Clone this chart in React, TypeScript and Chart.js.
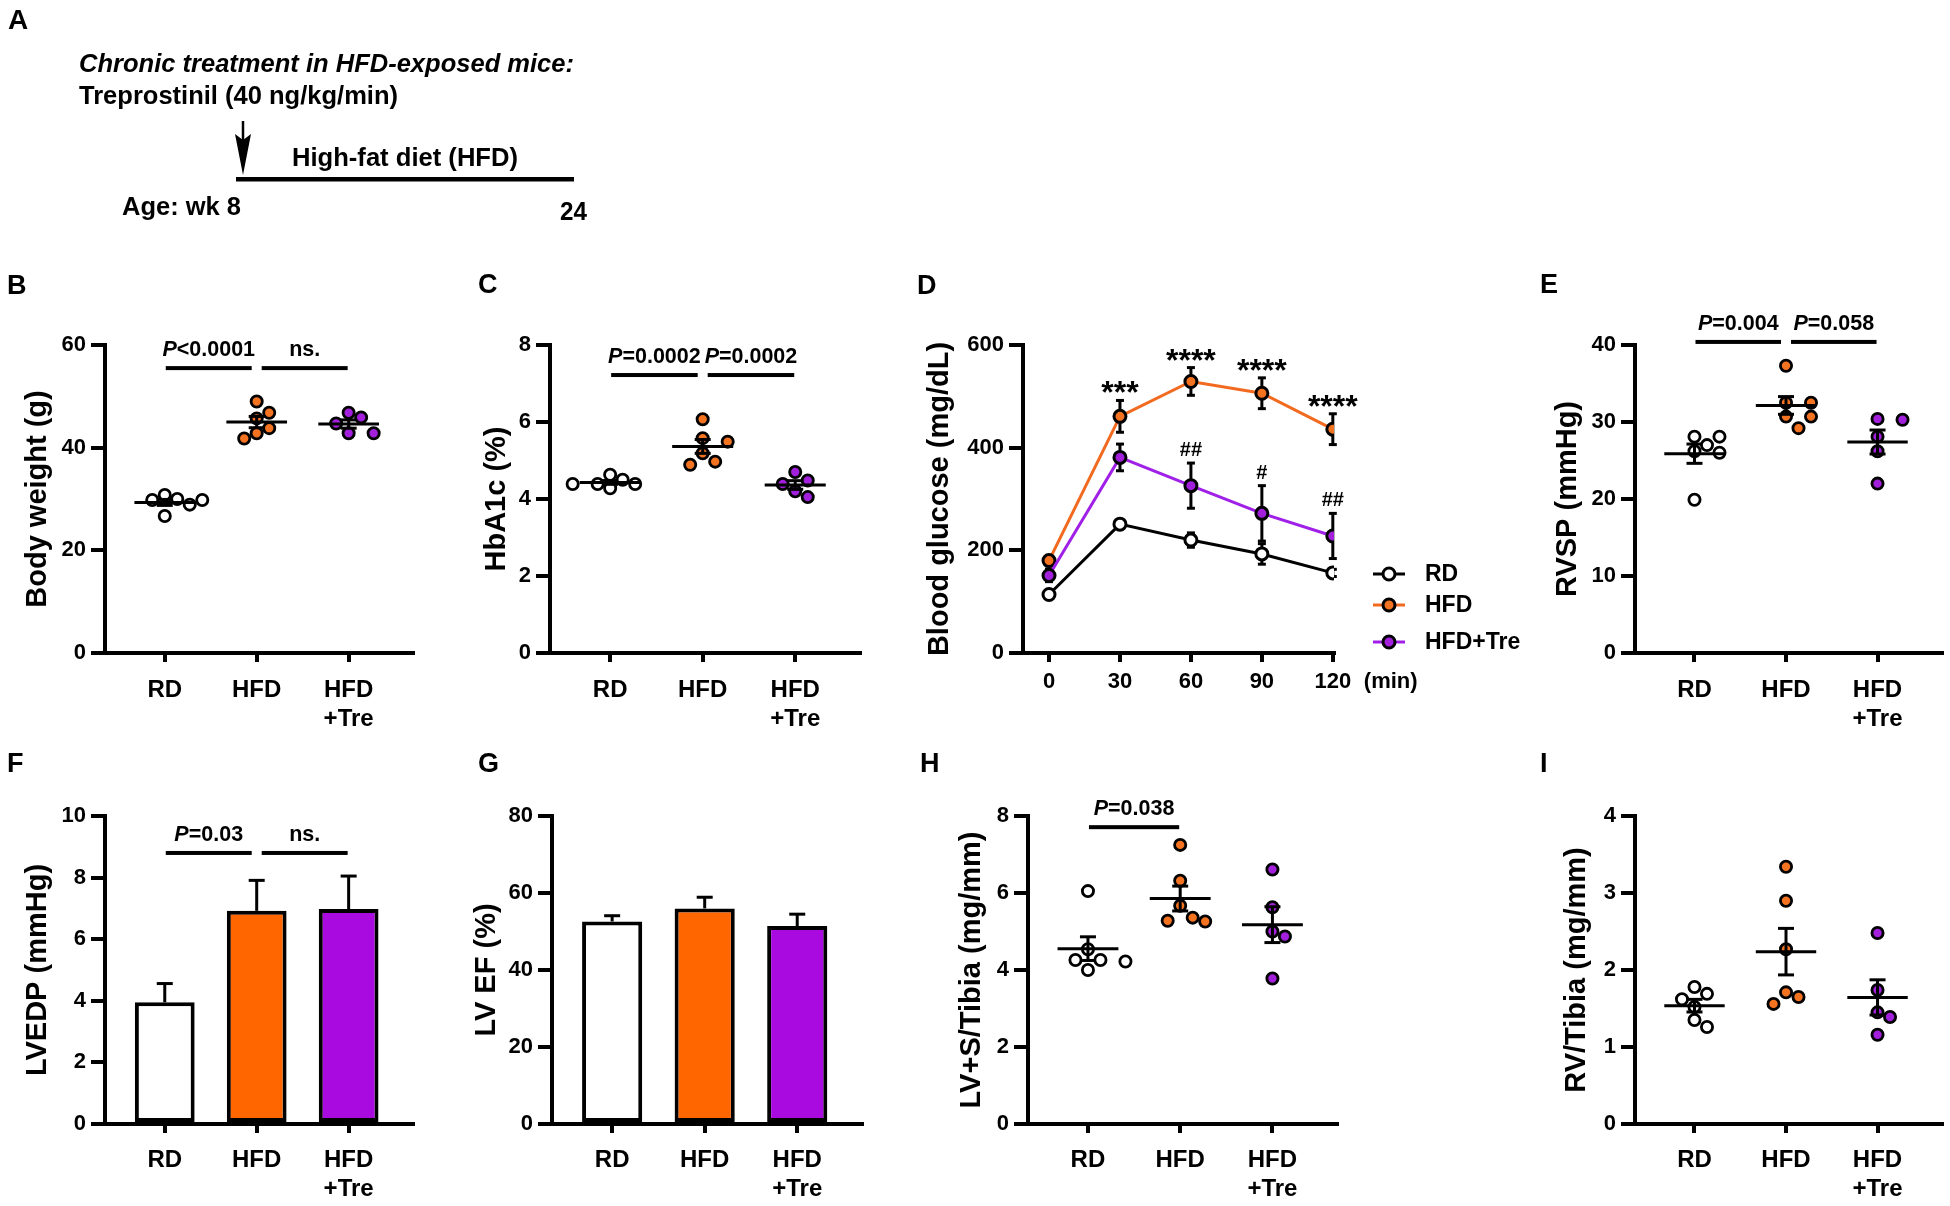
import React, { useEffect, useRef } from 'react';
import { Chart, registerables } from 'chart.js';

Chart.register(...registerables);

const FONT = '"Liberation Sans", Arial, Helvetica, sans-serif';

// ---------------- data ----------------
const groupNames = ['RD', 'HFD', 'HFD+Tre'];
const groupTickLabels = [['RD'], ['HFD'], ['HFD', '+Tre']];

// B: body weight (g)
const bodyWeightRD = [30.8, 26.7, 29.8, 29.8, 28.9, 30.0];
const bodyWeightHFD = [46.8, 41.8, 43.8, 49.0, 45.7, 42.8];
const bodyWeightTre = [46.8, 42.8, 44.7, 45.9, 42.8];
const bodyWeightTicks = [0, 20, 40, 60];
const bodyWeightSig = [
  { from: 0, to: 1, level: 55.5, label: 'P<0.0001' },
  { from: 1, to: 2, level: 55.5, label: 'ns.' },
];

// C: HbA1c (%)
const hba1cRD = [4.39, 4.63, 4.39, 4.5, 4.28, 4.39];
const hba1cHFD = [5.58, 4.89, 6.07, 5.19, 5.49, 4.97];
const hba1cTre = [4.48, 4.05, 4.39, 4.7, 4.2];
const hba1cTicks = [0, 2, 4, 6, 8];
const hba1cSig = [
  { from: 0, to: 1, level: 7.22, label: 'P=0.0002' },
  { from: 1, to: 2, level: 7.22, label: 'P=0.0002' },
];

// D: blood glucose (mg/dL) over time (min)
const glucoseTimes = [0, 30, 60, 90, 120];
const glucoseTicks = [0, 200, 400, 600];
const glucoseRD = [114, 251, 220, 193, 156];
const glucoseRDsem = [8, 6, 14, 20, 7];
const glucoseHFD = [180, 461, 529, 506, 436];
const glucoseHFDsem = [10, 31, 27, 30, 30];
const glucoseTre = [151, 381, 326, 272, 228];
const glucoseTresem = [12, 26, 44, 54, 44];
const glucoseStarsHFD = ['', '***', '****', '****', '****'];
const glucoseHashTre = ['', '', '##', '#', '##'];

// E: RVSP (mmHg)
const rvspRD = [27.0, 28.1, 26.0, 19.9, 28.1, 26.2];
const rvspHFD = [37.3, 32.5, 32.5, 30.7, 30.7, 29.2];
const rvspTre = [30.4, 30.3, 28.1, 26.2, 22.0];
const rvspTicks = [0, 10, 20, 30, 40];
const rvspSig = [
  { from: 0, to: 1, level: 40.4, label: 'P=0.004' },
  { from: 1, to: 2, level: 40.4, label: 'P=0.058' },
];

// F: LVEDP (mmHg), mean and SEM
const lvedpMean = [3.95, 6.92, 6.98];
const lvedpSem = [0.61, 0.99, 1.07];
const lvedpTicks = [0, 2, 4, 6, 8, 10];
const lvedpSig = [
  { from: 0, to: 1, level: 8.8, label: 'P=0.03' },
  { from: 1, to: 2, level: 8.8, label: 'ns.' },
];

// G: LV EF (%), mean and SEM
const lvefMean = [52.6, 56.0, 51.4];
const lvefSem = [1.5, 2.9, 3.1];
const lvefTicks = [0, 20, 40, 60, 80];

// H: LV+S/Tibia (mg/mm)
const lvsRD = [6.05, 4.54, 4.0, 4.26, 4.22, 4.26];
const lvsHFD = [7.25, 6.32, 5.67, 5.26, 5.36, 5.28];
const lvsTre = [6.61, 5.63, 5.0, 4.87, 3.78];
const lvsTicks = [0, 2, 4, 6, 8];
const lvsSig = [{ from: 0, to: 1, level: 7.71, label: 'P=0.038' }];

// I: RV/Tibia (mg/mm)
const rvtRD = [1.69, 1.26, 1.52, 1.78, 1.62, 1.35];
const rvtHFD = [3.34, 2.9, 2.27, 1.56, 1.71, 1.65];
const rvtTre = [2.48, 1.74, 1.45, 1.39, 1.16];
const rvtTicks = [0, 1, 2, 3, 4];

// ---------------- styles ----------------
const ORANGE_PT = '#F47321';
const PURPLE_PT = '#A21FDC';
const ORANGE_BAR = '#FF6600';
const PURPLE_BAR = '#A90ADF';
const ORANGE_LINE = '#F26A1F';
const PURPLE_LINE = '#A020E8';
const pointFills = ['#FFFFFF', ORANGE_PT, PURPLE_PT];
const barFills = ['#FFFFFF', ORANGE_BAR, PURPLE_BAR];

type Layout = {
  cx: number; cy: number; cw: number; ch: number;
  plotL: number; plotR: number; plotT: number; plotB: number;
  titleX: number; labelPad: number;
};

const TOP = { cy: 300, ch: 440, plotT: 345, plotB: 653, labelPad: 14 };
const BOT = { cy: 775, ch: 431, plotT: 816, plotB: 1124, labelPad: 13 };
const layoutB: Layout = { ...TOP, cx: 0, cw: 440, plotL: 105, plotR: 413, titleX: 38 };
const layoutC: Layout = { ...TOP, cx: 445, cw: 435, plotL: 550, plotR: 860, titleX: 497 };
const layoutD: Layout = { ...TOP, cx: 890, cw: 640, plotL: 1023, plotR: 1334, titleX: 940, labelPad: 7 };
const layoutE: Layout = { ...TOP, cx: 1530, cw: 420, plotL: 1635, plotR: 1943, titleX: 1568 };
const layoutF: Layout = { ...BOT, cx: 0, cw: 440, plotL: 105, plotR: 413, titleX: 38 };
const layoutG: Layout = { ...BOT, cx: 445, cw: 435, plotL: 552, plotR: 862, titleX: 487 };
const layoutH: Layout = { ...BOT, cx: 890, cw: 480, plotL: 1028, plotR: 1337, titleX: 972 };
const layoutI: Layout = { ...BOT, cx: 1530, cw: 420, plotL: 1635, plotR: 1943, titleX: 1577 };

// ---------------- helpers ----------------
const mean = (a: number[]) => a.reduce((s, v) => s + v, 0) / a.length;
const semOf = (a: number[]) => {
  const m = mean(a);
  const v = a.reduce((s, x) => s + (x - m) * (x - m), 0) / (a.length - 1);
  return Math.sqrt(v / a.length);
};

function seg(ctx: CanvasRenderingContext2D, x1: number, y1: number, x2: number, y2: number) {
  ctx.beginPath();
  ctx.moveTo(x1, y1);
  ctx.lineTo(x2, y2);
  ctx.stroke();
}

// greedy column beeswarm in pixel space
function swarm(ys: number[], D: number, step: number): number[] {
  const order = ys.map((_, i) => i).sort((a, b) => ys[a] - ys[b]);
  const placed: { x: number; y: number }[] = [];
  const out = new Array(ys.length).fill(0);
  for (const i of order) {
    const y = ys[i];
    let best = 0;
    for (let k = 0; k < 400; k++) {
      const c = k === 0 ? 0 : (k % 2 === 1 ? 1 : -1) * Math.ceil(k / 2) * step;
      if (placed.every((p) => Math.hypot(p.x - c, p.y - y) >= D - 0.01)) {
        best = c;
        break;
      }
    }
    placed.push({ x: best, y });
    out[i] = best;
  }
  return out;
}

function drawPLabel(ctx: CanvasRenderingContext2D, text: string, cx: number, y: number, size: number) {
  ctx.save();
  ctx.fillStyle = '#000';
  ctx.textBaseline = 'alphabetic';
  ctx.textAlign = 'left';
  const bold = `bold ${size}px ${FONT}`;
  const ital = `italic bold ${size}px ${FONT}`;
  const parts = text.startsWith('P')
    ? [{ t: 'P', f: ital }, { t: text.slice(1), f: bold }]
    : [{ t: text, f: bold }];
  let w = 0;
  for (const p of parts) { ctx.font = p.f; w += ctx.measureText(p.t).width; }
  let x = cx - w / 2;
  for (const p of parts) { ctx.font = p.f; ctx.fillText(p.t, x, y); x += ctx.measureText(p.t).width; }
  ctx.restore();
}

function sigPlugin(items: { from: number; to: number; level: number; label: string }[]) {
  return {
    id: 'sigbars',
    afterDraw(chart: any) {
      const { ctx } = chart;
      const x = chart.scales.x, y = chart.scales.y;
      items.forEach((it) => {
        const sharedFrom = items.some((o) => o !== it && o.to === it.from && o.level === it.level);
        const sharedTo = items.some((o) => o !== it && o.from === it.to && o.level === it.level);
        const x1 = x.getPixelForValue(it.from) + (sharedFrom ? 5 : 1);
        const x2 = x.getPixelForValue(it.to) - (sharedTo ? 5 : 1);
        const yy = y.getPixelForValue(it.level);
        ctx.save();
        ctx.fillStyle = '#000';
        ctx.fillRect(x1, yy - 2, x2 - x1, 4);
        ctx.restore();
        drawPLabel(ctx, it.label, (x1 + x2) / 2, yy - 12, 21.5);
      });
    },
  };
}

function meanSemPlugin(groups: number[][]) {
  return {
    id: 'meansem',
    afterDatasetsDraw(chart: any) {
      const { ctx } = chart;
      const x = chart.scales.x, y = chart.scales.y;
      ctx.save();
      ctx.strokeStyle = '#000';
      ctx.lineWidth = 3;
      groups.forEach((vals, gi) => {
        const m = mean(vals), s = semOf(vals);
        const xl = x.getPixelForValue(gi - 0.33), xr = x.getPixelForValue(gi + 0.33), xc = x.getPixelForValue(gi);
        const ym = y.getPixelForValue(m), yt = y.getPixelForValue(m + s), yb = y.getPixelForValue(m - s);
        seg(ctx, xl, ym, xr, ym);
        seg(ctx, xc, yt, xc, yb);
        seg(ctx, xc - 8, yt, xc + 8, yt);
        seg(ctx, xc - 8, yb, xc + 8, yb);
      });
      ctx.restore();
    },
  };
}

function barErrPlugin(means: number[], sems: number[]) {
  return {
    id: 'barerr',
    afterDatasetsDraw(chart: any) {
      const { ctx } = chart;
      const x = chart.scales.x, y = chart.scales.y;
      ctx.save();
      ctx.strokeStyle = '#000';
      ctx.lineWidth = 3;
      means.forEach((m, i) => {
        const xc = x.getPixelForValue(i);
        const y0 = y.getPixelForValue(m), y1 = y.getPixelForValue(m + sems[i]);
        seg(ctx, xc, y0, xc, y1);
        seg(ctx, xc - 8, y1, xc + 8, y1);
      });
      ctx.restore();
    },
  };
}

function baseOptions(L: Layout) {
  return {
    responsive: false,
    maintainAspectRatio: false,
    animation: false as const,
    events: [] as any[],
    layout: { padding: { left: 0, top: L.plotT - L.cy, right: L.cx + L.cw - L.plotR, bottom: 0 } },
    plugins: { legend: { display: false }, tooltip: { enabled: false }, title: { display: false } },
  };
}

const gridStyle = (tickLength: number) => ({
  display: true,
  drawOnChartArea: false,
  drawTicks: true,
  tickLength,
  tickWidth: 4,
  tickColor: '#000',
  color: '#000',
  lineWidth: 4,
  offset: false,
});

function yAxis(L: Layout, ticks: number[], title: string) {
  return {
    type: 'linear',
    position: 'left',
    min: ticks[0],
    max: ticks[ticks.length - 1],
    afterBuildTicks: (s: any) => { s.ticks = ticks.map((v) => ({ value: v })); },
    ticks: { color: '#000', font: { family: FONT, size: 22, weight: 'bold' }, padding: 5, autoSkip: false },
    grid: gridStyle(14),
    border: { display: true, width: 4, color: '#000' },
    title: {
      display: true, text: title, color: '#000',
      font: { family: FONT, size: 29, weight: 'bold', lineHeight: 1.2 },
      padding: { top: L.titleX - L.cx - 17.4, bottom: 0 },
    },
    afterFit: (s: any) => { s.width = L.plotL - L.cx; },
  };
}

function catAxis(L: Layout) {
  return {
    type: 'linear',
    position: 'bottom',
    min: -0.65,
    max: 2.7,
    offset: false,
    afterBuildTicks: (s: any) => { s.ticks = groupTickLabels.map((_, i) => ({ value: i })); },
    ticks: {
      color: '#000', font: { family: FONT, size: 24, weight: 'bold', lineHeight: 1.2 },
      padding: L.labelPad, autoSkip: false, maxRotation: 0, minRotation: 0,
      callback: (v: any) => groupTickLabels[Math.round(Number(v))],
    },
    grid: gridStyle(9),
    border: { display: true, width: 4, color: '#000' },
    afterFit: (s: any) => { s.height = L.cy + L.ch - L.plotB; },
  };
}

function makeScatter(groups: number[][], yTicks: number[], title: string, sig: any[]) {
  return (canvas: HTMLCanvasElement, L: Layout) => {
    const chart = new Chart(canvas, {
      type: 'scatter',
      data: {
        datasets: groups.map((vals, gi) => ({
          label: groupNames[gi],
          data: vals.map((v) => ({ x: gi, y: v })),
          pointRadius: 5.6,
          pointHoverRadius: 5.6,
          pointBorderWidth: 2.8,
          pointBackgroundColor: pointFills[gi],
          pointBorderColor: '#000',
        })),
      },
      options: { ...baseOptions(L), scales: { x: catAxis(L), y: yAxis(L, yTicks, title) } } as any,
      plugins: [meanSemPlugin(groups), sigPlugin(sig)],
    });
    const xs: any = chart.scales.x, ys: any = chart.scales.y;
    const ppu = xs.getPixelForValue(1) - xs.getPixelForValue(0);
    groups.forEach((vals, gi) => {
      const offs = swarm(vals.map((v) => ys.getPixelForValue(v)), 13, 12.5);
      (chart.data.datasets[gi] as any).data = vals.map((v, k) => ({ x: gi + offs[k] / ppu, y: v }));
    });
    chart.update('none');
    return chart;
  };
}

function makeBars(means: number[], sems: number[], yTicks: number[], title: string, sig: any[]) {
  return (canvas: HTMLCanvasElement, L: Layout) =>
    new Chart(canvas, {
      type: 'bar',
      data: {
        datasets: [{
          label: title,
          data: means.map((m, i) => ({ x: i, y: m })),
          backgroundColor: barFills,
          borderColor: '#000',
          borderWidth: 4,
          borderSkipped: false,
          barPercentage: 0.65,
          categoryPercentage: 1,
        }],
      },
      options: { ...baseOptions(L), scales: { x: catAxis(L), y: yAxis(L, yTicks, title) } } as any,
      plugins: [barErrPlugin(means, sems), sigPlugin(sig)],
    });
}

const glucoseSeries = [
  { name: 'RD', mean: glucoseRD, sem: glucoseRDsem, line: '#000000', fill: '#FFFFFF' },
  { name: 'HFD', mean: glucoseHFD, sem: glucoseHFDsem, line: ORANGE_LINE, fill: ORANGE_PT },
  { name: 'HFD+Tre', mean: glucoseTre, sem: glucoseTresem, line: PURPLE_LINE, fill: PURPLE_PT },
];
const legendRowsY = [574, 605, 642];

function makeGlucose(canvas: HTMLCanvasElement, L: Layout) {
  const errPlugin = {
    id: 'gluerr',
    beforeDatasetsDraw(chart: any) {
      const { ctx } = chart;
      const x = chart.scales.x, y = chart.scales.y;
      ctx.save();
      ctx.strokeStyle = '#000';
      ctx.lineWidth = 3;
      glucoseSeries.forEach((s) => s.mean.forEach((m, i) => {
        const px = x.getPixelForValue(glucoseTimes[i]);
        const t = y.getPixelForValue(m + s.sem[i]), b = y.getPixelForValue(m - s.sem[i]);
        seg(ctx, px, t, px, b);
        seg(ctx, px - 4, t, px + 4, t);
        seg(ctx, px - 4, b, px + 4, b);
      }));
      ctx.restore();
    },
  };
  const annPlugin = {
    id: 'gluann',
    afterDraw(chart: any) {
      const { ctx } = chart;
      const x = chart.scales.x, y = chart.scales.y;
      ctx.save();
      ctx.fillStyle = '#000';
      ctx.textAlign = 'center';
      ctx.textBaseline = 'alphabetic';
      ctx.font = `bold 32px ${FONT}`;
      glucoseStarsHFD.forEach((s, i) => {
        if (!s) return;
        const top = y.getPixelForValue(glucoseHFD[i] + glucoseHFDsem[i]);
        ctx.fillText(s, x.getPixelForValue(glucoseTimes[i]), top + 3);
      });
      ctx.font = `bold 20px ${FONT}`;
      glucoseHashTre.forEach((s, i) => {
        if (!s) return;
        const top = y.getPixelForValue(glucoseTre[i] + glucoseTresem[i]);
        ctx.fillText(s, x.getPixelForValue(glucoseTimes[i]), top - 7);
      });
      // axis unit
      ctx.textAlign = 'left';
      ctx.textBaseline = 'middle';
      ctx.font = `bold 22px ${FONT}`;
      const lastT = glucoseTimes[glucoseTimes.length - 1];
      ctx.fillText('(min)', x.getPixelForValue(lastT) + 31, 682 - L.cy);
      // legend
      glucoseSeries.forEach((s, k) => {
        const yy = legendRowsY[k] - L.cy;
        const x0 = 1373 - L.cx;
        ctx.strokeStyle = s.line;
        ctx.lineWidth = 3;
        seg(ctx, x0, yy, x0 + 32, yy);
        ctx.beginPath();
        ctx.arc(x0 + 16, yy, 6, 0, Math.PI * 2);
        ctx.fillStyle = s.fill;
        ctx.fill();
        ctx.strokeStyle = '#000';
        ctx.stroke();
        ctx.fillStyle = '#000';
        ctx.font = `bold 23px ${FONT}`;
        ctx.fillText(s.name, 1425 - L.cx, yy + 1);
      });
      ctx.restore();
    },
  };
  return new Chart(canvas, {
    type: 'line',
    data: {
      datasets: glucoseSeries.map((s, k) => ({
        label: s.name,
        data: s.mean.map((m, i) => ({ x: glucoseTimes[i], y: m })),
        borderColor: s.line,
        borderWidth: 3,
        pointRadius: 6,
        pointHoverRadius: 6,
        pointBorderWidth: 3,
        pointBackgroundColor: s.fill,
        pointBorderColor: '#000',
        tension: 0,
        fill: false,
        order: 2 - k,
      })),
    },
    options: {
      ...baseOptions(L),
      scales: {
        x: {
          type: 'linear', position: 'bottom', min: -11, max: 120.5, offset: false,
          afterBuildTicks: (s: any) => { s.ticks = glucoseTimes.map((v) => ({ value: v })); },
          ticks: { color: '#000', font: { family: FONT, size: 22, weight: 'bold' }, padding: L.labelPad, autoSkip: false, maxRotation: 0 },
          grid: gridStyle(9),
          border: { display: true, width: 4, color: '#000' },
          afterFit: (s: any) => { s.height = L.cy + L.ch - L.plotB; },
        },
        y: yAxis(L, glucoseTicks, 'Blood glucose (mg/dL)'),
      },
    } as any,
    plugins: [errPlugin, annPlugin],
  });
}

function Panel({ L, make }: { L: Layout; make: (c: HTMLCanvasElement, L: Layout) => Chart }) {
  const ref = useRef<HTMLCanvasElement>(null);
  useEffect(() => {
    const chart = make(ref.current as HTMLCanvasElement, L);
    return () => chart.destroy();
  }, []);
  return (
    <canvas
      ref={ref}
      width={L.cw}
      height={L.ch}
      style={{ position: 'absolute', left: L.cx, top: L.cy, width: L.cw, height: L.ch }}
    />
  );
}

const panelLetters = [
  { t: 'A', x: 8, y: 29 },
  { t: 'B', x: 7, y: 294 }, { t: 'C', x: 478, y: 293 }, { t: 'D', x: 917, y: 294 }, { t: 'E', x: 1540, y: 293 },
  { t: 'F', x: 7, y: 772 }, { t: 'G', x: 478, y: 772 }, { t: 'H', x: 920, y: 772 }, { t: 'I', x: 1540, y: 772 },
];

const makeB = makeScatter([bodyWeightRD, bodyWeightHFD, bodyWeightTre], bodyWeightTicks, 'Body weight (g)', bodyWeightSig);
const makeC = makeScatter([hba1cRD, hba1cHFD, hba1cTre], hba1cTicks, 'HbA1c (%)', hba1cSig);
const makeE = makeScatter([rvspRD, rvspHFD, rvspTre], rvspTicks, 'RVSP (mmHg)', rvspSig);
const makeF = makeBars(lvedpMean, lvedpSem, lvedpTicks, 'LVEDP (mmHg)', lvedpSig);
const makeG = makeBars(lvefMean, lvefSem, lvefTicks, 'LV EF (%)', []);
const makeH = makeScatter([lvsRD, lvsHFD, lvsTre], lvsTicks, 'LV+S/Tibia (mg/mm)', lvsSig);
const makeI = makeScatter([rvtRD, rvtHFD, rvtTre], rvtTicks, 'RV/Tibia (mg/mm)', []);

export default function App() {
  return (
    <div style={{ position: 'absolute', left: 0, top: 0, width: 1950, height: 1206, background: '#fff', overflow: 'hidden' }}>
      <Panel L={layoutB} make={makeB} />
      <Panel L={layoutC} make={makeC} />
      <Panel L={layoutD} make={makeGlucose} />
      <Panel L={layoutE} make={makeE} />
      <Panel L={layoutF} make={makeF} />
      <Panel L={layoutG} make={makeG} />
      <Panel L={layoutH} make={makeH} />
      <Panel L={layoutI} make={makeI} />
      <svg
        width={1950}
        height={1206}
        style={{ position: 'absolute', left: 0, top: 0, pointerEvents: 'none' }}
        fontFamily={FONT}
        fontWeight="bold"
        fill="#000"
      >
        <text x={79} y={72} fontSize={26} fontStyle="italic" textLength={495} lengthAdjust="spacingAndGlyphs">
          Chronic treatment in HFD-exposed mice:
        </text>
        <text x={79} y={104} fontSize={25.5} textLength={319} lengthAdjust="spacingAndGlyphs">
          Treprostinil (40 ng/kg/min)
        </text>
        <line x1={243} y1={121} x2={243} y2={145} stroke="#000" strokeWidth={2.5} />
        <polygon points="235,134 243,140 251,134 243,175" fill="#000" />
        <rect x={236} y={177} width={338} height={4.5} fill="#000" />
        <text x={292} y={166} fontSize={25.5} textLength={226} lengthAdjust="spacingAndGlyphs">
          High-fat diet (HFD)
        </text>
        <text x={122} y={215} fontSize={25.5} textLength={119} lengthAdjust="spacingAndGlyphs">
          Age: wk 8
        </text>
        <text x={560} y={220} fontSize={25.5} textLength={27} lengthAdjust="spacingAndGlyphs">
          24
        </text>
        {panelLetters.map((p) => (
          <text key={p.t} x={p.x} y={p.y} fontSize={p.t === 'A' ? 28 : 27}>{p.t}</text>
        ))}
      </svg>
    </div>
  );
}
